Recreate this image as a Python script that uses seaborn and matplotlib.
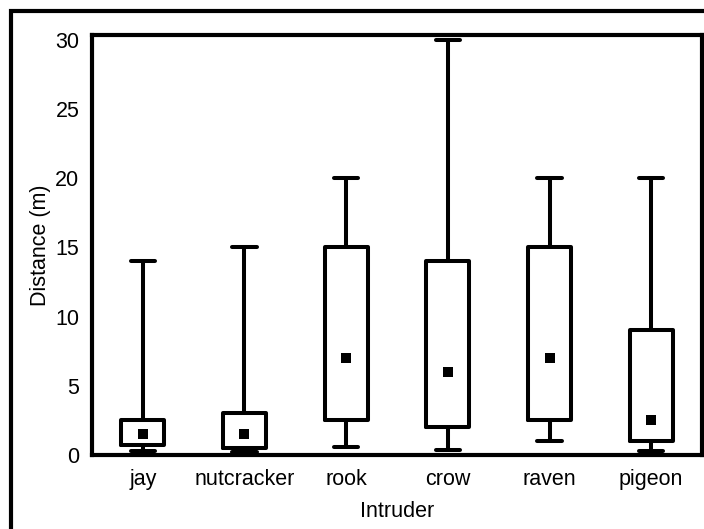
import matplotlib
matplotlib.use("Agg")
import matplotlib.pyplot as plt
import matplotlib.patches as mpatches
import seaborn as sns
import pandas as pd

categories = ["jay", "nutcracker", "rook", "crow", "raven", "pigeon"]
whisker_low = [0.3, 0.2, 0.55, 0.35, 1.0, 0.3]
q1 = [0.7, 0.5, 2.5, 2.0, 2.5, 1.0]
median = [1.5, 1.5, 7.0, 6.0, 7.0, 2.5]
q3 = [2.5, 3.0, 15.0, 14.0, 15.0, 9.0]
whisker_high = [14.0, 15.0, 20.0, 30.0, 20.0, 20.0]
yticks = [0, 5, 10, 15, 20, 25, 30]

rows = []
for i, c in enumerate(categories):
    for v in (whisker_low[i], q1[i], median[i], q3[i], whisker_high[i]):
        rows.append({"Intruder": c, "Distance": v})
df = pd.DataFrame(rows)
med_df = pd.DataFrame({"Intruder": categories, "Distance": median})

sns.set_theme(style="white")
plt.rcParams["font.family"] = ["Liberation Sans", "DejaVu Sans"]

fig = plt.figure(figsize=(7.04, 5.29), dpi=100)
ax = fig.add_axes([92/704, 1-455/529, (702-92)/704, (455-35)/529])

lw = 2.9
sns.boxplot(data=df, x="Intruder", y="Distance", order=categories, whis=(0, 100),
            width=0.42, fill=False, color="black", linewidth=lw,
            medianprops=dict(linewidth=0), showfliers=False,
            capwidths=0.24, ax=ax)
sns.scatterplot(data=med_df, x="Intruder", y="Distance", marker="s", s=42,
                color="black", edgecolor="black", linewidth=0, ax=ax, zorder=5)

ax.set_ylim(0, 30.35)
ax.set_xlim(-0.5, 5.5)
ax.set_yticks(yticks)
ax.set_yticklabels([str(t) for t in yticks])
for s in ax.spines.values():
    s.set_visible(True)
    s.set_color("black")
    s.set_linewidth(3)
fs = 15.5
ax.tick_params(axis="both", length=0, labelsize=fs, colors="black")
ax.tick_params(axis="x", pad=10)
ax.tick_params(axis="y", pad=9)
ax.set_xlabel("Intruder", fontsize=fs, color="black", labelpad=8)
ax.set_ylabel("Distance (m)", fontsize=fs, color="black", labelpad=3)

border = mpatches.Rectangle((11/704, -0.1), 1.2, 1.1 - 10.5/529, transform=fig.transFigure,
                            fill=False, edgecolor="black", linewidth=3, clip_on=False)
fig.patches.append(border)

fig.savefig("out.png", dpi=100)
